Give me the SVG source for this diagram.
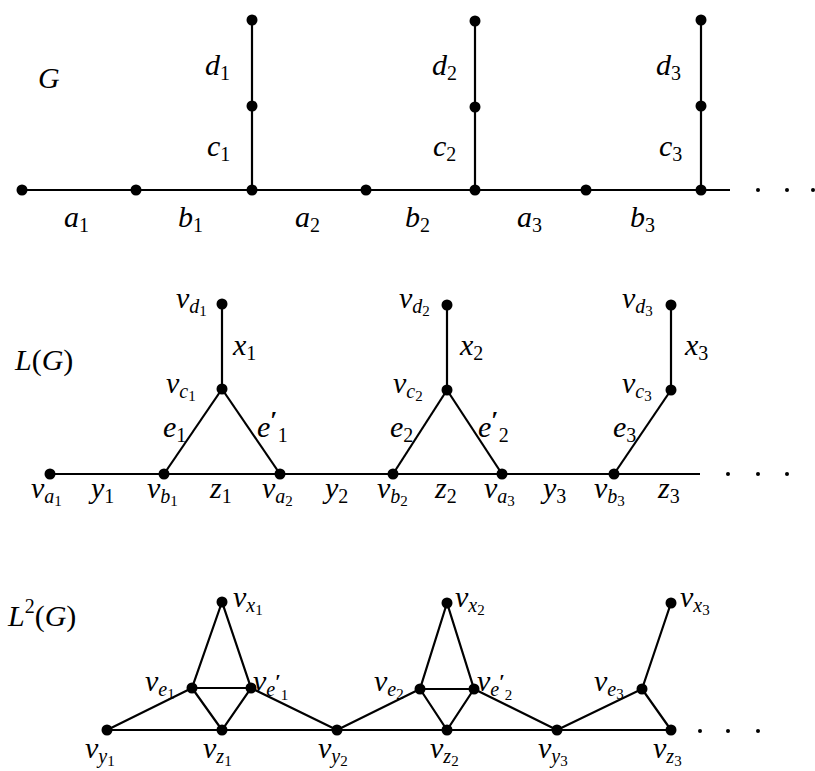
<svg xmlns="http://www.w3.org/2000/svg" width="815" height="771" viewBox="0 0 815 771">
<style>
.e{stroke:#000;stroke-width:2.2;fill:none}
.n{fill:#000}
.t{font-family:"Liberation Serif",serif;font-style:italic;font-size:30px;fill:#000}
.d{font-style:normal;font-size:20px}
.s{font-size:20px}
.ss{font-style:normal;font-size:15px}
.pr{font-style:normal;font-size:26px;font-weight:bold}
.pr2{font-style:normal;font-size:20px;font-weight:bold}
</style>
<rect width="815" height="771" fill="#fff"/>
<g id="connectors">
<line class="e" x1="22" y1="190" x2="730" y2="190"/>
<line class="e" x1="252" y1="20" x2="252" y2="190"/>
<line class="e" x1="475" y1="21" x2="475" y2="190"/>
<line class="e" x1="701" y1="20" x2="701" y2="190"/>
<line class="e" x1="50" y1="474" x2="700" y2="474"/>
<line class="e" x1="222" y1="304" x2="222" y2="389"/>
<line class="e" x1="222" y1="389" x2="164" y2="474"/>
<line class="e" x1="222" y1="389" x2="280" y2="474"/>
<line class="e" x1="447" y1="305" x2="447" y2="390"/>
<line class="e" x1="447" y1="390" x2="393" y2="474"/>
<line class="e" x1="447" y1="390" x2="502" y2="474"/>
<line class="e" x1="671" y1="305" x2="671" y2="390"/>
<line class="e" x1="671" y1="390" x2="614" y2="474"/>
<line class="e" x1="107" y1="730" x2="671" y2="730"/>
<path class="e" d="M222,602 L192,688 L251,688 Z M192,688 L222,730 L251,688 M107,730 L192,688 M251,688 L337,730"/>
<path class="e" d="M447,603 L420,689 L474,689 Z M420,689 L447,730 L474,689 M337,730 L420,689 M474,689 L557,730"/>
<path class="e" d="M557,730 L642,689 L671,603 M642,689 L671,730"/>
</g>
<g id="continuation">
<circle class="n" cx="758" cy="190" r="2"/><circle class="n" cx="787" cy="190" r="2"/><circle class="n" cx="813" cy="190" r="2"/>
<circle class="n" cx="728" cy="474" r="2"/><circle class="n" cx="758" cy="474" r="2"/><circle class="n" cx="787" cy="474" r="2"/>
<circle class="n" cx="700" cy="731" r="2"/><circle class="n" cx="728" cy="731" r="2"/><circle class="n" cx="758" cy="731" r="2"/>
</g>
<g id="titles">
<text class="t" x="38" y="88">G</text>
<text class="t" x="15" y="370">L<tspan font-style="normal">(</tspan>G<tspan font-style="normal">)</tspan></text>
<text class="t" x="8" y="626">L<tspan class="d" dy="-13">2</tspan><tspan font-style="normal" dy="13">(</tspan>G<tspan font-style="normal">)</tspan></text>
</g>
<g id="edge-labels">
<text class="t" x="205" y="75">d<tspan class="d" dy="5">1</tspan></text>
<text class="t" x="207" y="156">c<tspan class="d" dy="5">1</tspan></text>
<text class="t" x="432" y="75">d<tspan class="d" dy="5">2</tspan></text>
<text class="t" x="433" y="156">c<tspan class="d" dy="5">2</tspan></text>
<text class="t" x="656" y="75">d<tspan class="d" dy="5">3</tspan></text>
<text class="t" x="659" y="156">c<tspan class="d" dy="5">3</tspan></text>
<text class="t" x="64" y="227">a<tspan class="d" dy="5">1</tspan></text>
<text class="t" x="178" y="227">b<tspan class="d" dy="5">1</tspan></text>
<text class="t" x="295" y="227">a<tspan class="d" dy="5">2</tspan></text>
<text class="t" x="405" y="227">b<tspan class="d" dy="5">2</tspan></text>
<text class="t" x="517" y="227">a<tspan class="d" dy="5">3</tspan></text>
<text class="t" x="630" y="227">b<tspan class="d" dy="5">3</tspan></text>
<text class="t" x="233" y="355">x<tspan class="d" dy="5">1</tspan></text>
<text class="t" x="460" y="355">x<tspan class="d" dy="5">2</tspan></text>
<text class="t" x="685" y="355">x<tspan class="d" dy="5">3</tspan></text>
<text class="t" x="163" y="437">e<tspan class="d" dy="5">1</tspan></text>
<text class="t" x="257" y="437">e<tspan class="pr" dy="-8">′</tspan><tspan class="d" dy="13">1</tspan></text>
<text class="t" x="390" y="437">e<tspan class="d" dy="5">2</tspan></text>
<text class="t" x="478" y="437">e<tspan class="pr" dy="-8">′</tspan><tspan class="d" dy="13">2</tspan></text>
<text class="t" x="613" y="437">e<tspan class="d" dy="5">3</tspan></text>
<text class="t" x="91" y="498">y<tspan class="d" dy="5">1</tspan></text>
<text class="t" x="210" y="498">z<tspan class="d" dy="5">1</tspan></text>
<text class="t" x="325" y="498">y<tspan class="d" dy="5">2</tspan></text>
<text class="t" x="435" y="498">z<tspan class="d" dy="5">2</tspan></text>
<text class="t" x="543" y="498">y<tspan class="d" dy="5">3</tspan></text>
<text class="t" x="658" y="498">z<tspan class="d" dy="5">3</tspan></text>
</g>
<g id="g-n1"><circle class="n" cx="22" cy="190" r="5.5"/></g>
<g id="g-n2"><circle class="n" cx="136" cy="190" r="5.5"/></g>
<g id="g-n3"><circle class="n" cx="252" cy="190" r="5.5"/></g>
<g id="g-n4"><circle class="n" cx="366" cy="190" r="5.5"/></g>
<g id="g-n5"><circle class="n" cx="475" cy="190" r="5.5"/></g>
<g id="g-n6"><circle class="n" cx="586" cy="190" r="5.5"/></g>
<g id="g-n7"><circle class="n" cx="701" cy="190" r="5.5"/></g>
<g id="g-m1"><circle class="n" cx="252" cy="106" r="5.5"/></g>
<g id="g-t1"><circle class="n" cx="252" cy="20" r="5.5"/></g>
<g id="g-m2"><circle class="n" cx="475" cy="107" r="5.5"/></g>
<g id="g-t2"><circle class="n" cx="475" cy="21" r="5.5"/></g>
<g id="g-m3"><circle class="n" cx="701" cy="106" r="5.5"/></g>
<g id="g-t3"><circle class="n" cx="701" cy="20" r="5.5"/></g>
<g id="v_a1"><circle class="n" cx="50" cy="474" r="5.5"/><text class="t" x="31" y="498">v<tspan class="s" dy="5">a</tspan><tspan class="ss" dy="3">1</tspan></text></g>
<g id="v_b1"><circle class="n" cx="164" cy="474" r="5.5"/><text class="t" x="147" y="498">v<tspan class="s" dy="5">b</tspan><tspan class="ss" dy="3">1</tspan></text></g>
<g id="v_a2"><circle class="n" cx="280" cy="474" r="5.5"/><text class="t" x="262" y="498">v<tspan class="s" dy="5">a</tspan><tspan class="ss" dy="3">2</tspan></text></g>
<g id="v_b2"><circle class="n" cx="393" cy="474" r="5.5"/><text class="t" x="377" y="498">v<tspan class="s" dy="5">b</tspan><tspan class="ss" dy="3">2</tspan></text></g>
<g id="v_a3"><circle class="n" cx="502" cy="474" r="5.5"/><text class="t" x="484" y="498">v<tspan class="s" dy="5">a</tspan><tspan class="ss" dy="3">3</tspan></text></g>
<g id="v_b3"><circle class="n" cx="614" cy="474" r="5.5"/><text class="t" x="594" y="498">v<tspan class="s" dy="5">b</tspan><tspan class="ss" dy="3">3</tspan></text></g>
<g id="v_c1"><circle class="n" cx="222" cy="389" r="5.5"/><text class="t" x="166" y="393">v<tspan class="s" dy="5">c</tspan><tspan class="ss" dy="3">1</tspan></text></g>
<g id="v_d1"><circle class="n" cx="222" cy="304" r="5.5"/><text class="t" x="176" y="308">v<tspan class="s" dy="5">d</tspan><tspan class="ss" dy="3">1</tspan></text></g>
<g id="v_c2"><circle class="n" cx="447" cy="390" r="5.5"/><text class="t" x="393" y="393">v<tspan class="s" dy="5">c</tspan><tspan class="ss" dy="3">2</tspan></text></g>
<g id="v_d2"><circle class="n" cx="447" cy="305" r="5.5"/><text class="t" x="399" y="308">v<tspan class="s" dy="5">d</tspan><tspan class="ss" dy="3">2</tspan></text></g>
<g id="v_c3"><circle class="n" cx="671" cy="390" r="5.5"/><text class="t" x="622" y="393">v<tspan class="s" dy="5">c</tspan><tspan class="ss" dy="3">3</tspan></text></g>
<g id="v_d3"><circle class="n" cx="671" cy="305" r="5.5"/><text class="t" x="622" y="308">v<tspan class="s" dy="5">d</tspan><tspan class="ss" dy="3">3</tspan></text></g>
<g id="v_x1"><circle class="n" cx="222" cy="602" r="5.5"/><text class="t" x="233" y="607">v<tspan class="s" dy="5">x</tspan><tspan class="ss" dy="3">1</tspan></text></g>
<g id="v_e1"><circle class="n" cx="192" cy="688" r="5.5"/><text class="t" x="145" y="691">v<tspan class="s" dy="5">e</tspan><tspan class="ss" dy="3">1</tspan></text></g>
<g id="v_e1p"><circle class="n" cx="251" cy="688" r="5.5"/><text class="t" x="253" y="691">v<tspan class="s" dy="5">e</tspan><tspan class="pr2" dy="-7">′</tspan><tspan class="ss" dy="11">1</tspan></text></g>
<g id="v_z1"><circle class="n" cx="222" cy="730" r="5.5"/><text class="t" x="203" y="758">v<tspan class="s" dy="5">z</tspan><tspan class="ss" dy="3">1</tspan></text></g>
<g id="v_y1"><circle class="n" cx="107" cy="730" r="5.5"/><text class="t" x="85" y="758">v<tspan class="s" dy="5">y</tspan><tspan class="ss" dy="3">1</tspan></text></g>
<g id="v_y2"><circle class="n" cx="337" cy="730" r="5.5"/><text class="t" x="318" y="758">v<tspan class="s" dy="5">y</tspan><tspan class="ss" dy="3">2</tspan></text></g>
<g id="v_x2"><circle class="n" cx="447" cy="603" r="5.5"/><text class="t" x="455" y="607">v<tspan class="s" dy="5">x</tspan><tspan class="ss" dy="3">2</tspan></text></g>
<g id="v_e2"><circle class="n" cx="420" cy="689" r="5.5"/><text class="t" x="374" y="691">v<tspan class="s" dy="5">e</tspan><tspan class="ss" dy="3">2</tspan></text></g>
<g id="v_e2p"><circle class="n" cx="474" cy="689" r="5.5"/><text class="t" x="477" y="691">v<tspan class="s" dy="5">e</tspan><tspan class="pr2" dy="-7">′</tspan><tspan class="ss" dy="11">2</tspan></text></g>
<g id="v_z2"><circle class="n" cx="447" cy="730" r="5.5"/><text class="t" x="430" y="758">v<tspan class="s" dy="5">z</tspan><tspan class="ss" dy="3">2</tspan></text></g>
<g id="v_y3"><circle class="n" cx="557" cy="730" r="5.5"/><text class="t" x="538" y="758">v<tspan class="s" dy="5">y</tspan><tspan class="ss" dy="3">3</tspan></text></g>
<g id="v_x3"><circle class="n" cx="671" cy="603" r="5.5"/><text class="t" x="680" y="607">v<tspan class="s" dy="5">x</tspan><tspan class="ss" dy="3">3</tspan></text></g>
<g id="v_e3"><circle class="n" cx="642" cy="689" r="5.5"/><text class="t" x="594" y="691">v<tspan class="s" dy="5">e</tspan><tspan class="ss" dy="3">3</tspan></text></g>
<g id="v_z3"><circle class="n" cx="671" cy="730" r="5.5"/><text class="t" x="653" y="758">v<tspan class="s" dy="5">z</tspan><tspan class="ss" dy="3">3</tspan></text></g>
</svg>
